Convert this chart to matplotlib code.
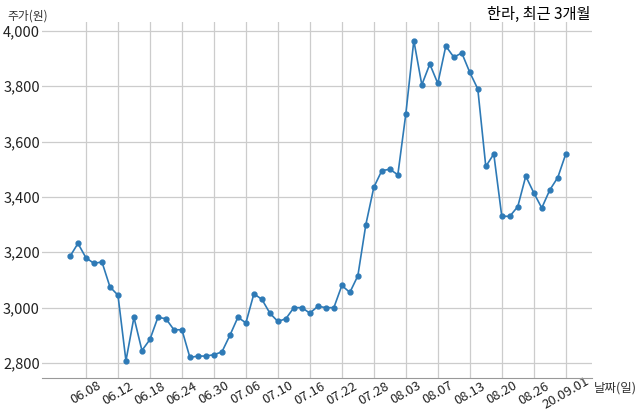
import numpy as np
import matplotlib.pyplot as plt

plt.rcParams['font.family'] = ['Noto Sans CJK KR', 'DejaVu Sans']

# closing prices, one per trading day
prices = [3185, 3232, 3180, 3160, 3165, 3075, 3045, 2808, 2965, 2845,
          2885, 2965, 2960, 2920, 2920, 2820, 2825, 2825, 2830, 2840,
          2900, 2965, 2945, 3050, 3030, 2980, 2950, 2960, 3000, 3000,
          2980, 3005, 3000, 3000, 3080, 3055, 3115, 3300, 3435, 3495,
          3500, 3480, 3700, 3965, 3805, 3880, 3810, 3945, 3905, 3920,
          3850, 3790, 3510, 3555, 3330, 3330, 3365, 3475, 3415, 3360,
          3425, 3470, 3555]

tick_pos = [2, 6, 10, 14, 18, 22, 26, 30, 34, 38, 42, 46, 50, 54, 58, 62]
tick_labels = ['06.08', '06.12', '06.18', '06.24', '06.30', '07.06', '07.10',
               '07.16', '07.22', '07.28', '08.03', '08.07', '08.13', '08.20',
               '08.26', '20.09.01']
y_ticks = [2800, 3000, 3200, 3400, 3600, 3800, 4000]

fig = plt.figure(figsize=(6.4, 4.19), dpi=100)
ax = fig.add_axes([0.0656, 0.098, 0.859, 0.8495])

x = np.arange(len(prices))
ax.plot(x, prices, color='#2e7ab6', lw=1.2, marker='o', ms=3.5, zorder=3)

ax.set_xlim(-3.5, 65.25)
ax.set_ylim(2746, 4032)
ax.set_xticks(tick_pos)
ax.set_xticklabels(tick_labels, rotation=30, fontsize=9.5, color='#222222',
                   ha='center', va='center', rotation_mode='anchor')
ax.set_yticks(y_ticks)
ax.set_yticklabels([f'{v:,}' for v in y_ticks], fontsize=10.5, color='#222222')
ax.tick_params(length=0)
ax.tick_params(axis='y', pad=1.5)
ax.tick_params(axis='x', pad=11)

ax.grid(True, color='#cccccc', lw=0.9)
ax.set_axisbelow(True)
for s in ['left', 'right', 'top']:
    ax.spines[s].set_visible(False)
ax.spines['bottom'].set_color('#999999')

fig.text(0.922, 0.965, '한라, 최근 3개월', ha='right', va='center', fontsize=11)
fig.text(0.012, 0.962, '주가(원)', ha='left', va='center', fontsize=8.5, color='#333333')
fig.text(0.928, 0.074, '날짜(일)', ha='left', va='center', fontsize=9, color='#333333')

fig.savefig('out.png')
